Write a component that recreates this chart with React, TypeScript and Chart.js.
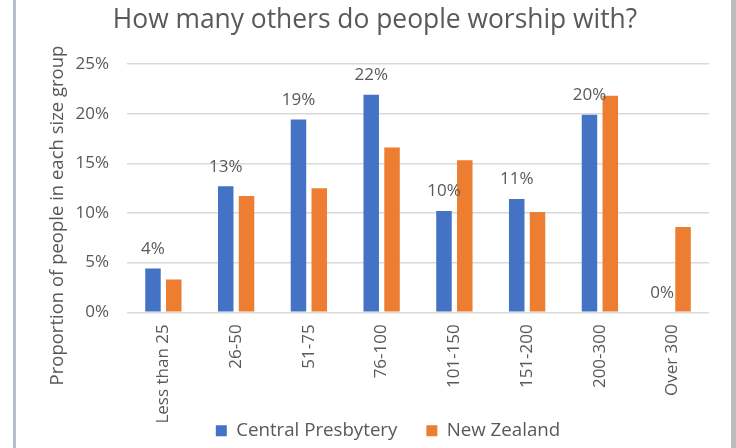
import React, { useEffect, useRef } from "react";
import { Chart, registerables } from "chart.js";

Chart.register(...registerables);

const TITLE = "How many others do people worship with?";
const Y_TITLE = "Proportion of people in each size group";
const categories = ["Less than 25", "26-50", "51-75", "76-100", "101-150", "151-200", "200-300", "Over 300"];
const seriesNames = ["Central Presbytery", "New Zealand"];
const centralPresbytery = [4.4, 12.7, 19.4, 21.9, 10.2, 11.4, 19.9, 0];
const newZealand = [3.3, 11.7, 12.5, 16.6, 15.3, 10.1, 21.8, 8.6];
const yTickValues = [0, 5, 10, 15, 20, 25];

const BLUE = "#4472C4";
const ORANGE = "#ED7D31";
const TEXT = "#595959";
const GRID = "#d9d9d9";
const FONT = "'Open Sans', 'Noto Sans', sans-serif";

const labelPlugin = {
  id: "barLabels",
  afterDatasetsDraw(chart: any) {
    const ctx = chart.ctx;
    const meta = chart.getDatasetMeta(0);
    const data = chart.data.datasets[0].data as number[];
    ctx.save();
    ctx.font = `17px ${FONT}`;
    ctx.fillStyle = TEXT;
    ctx.textAlign = "center";
    ctx.textBaseline = "middle";
    meta.data.forEach((el: any, i: number) => {
      ctx.fillText(Math.round(data[i]) + "%", el.x, el.y - 19.5);
    });
    ctx.restore();
  },
};

const titlePlugin = {
  id: "titles",
  afterDraw(chart: any) {
    const ctx = chart.ctx;
    ctx.save();
    ctx.fillStyle = TEXT;
    ctx.textAlign = "center";
    ctx.textBaseline = "alphabetic";
    ctx.font = `26.4px ${FONT}`;
    ctx.fillText(TITLE, 375, 28);
    ctx.translate(63, 215.5);
    ctx.rotate(-Math.PI / 2);
    ctx.font = `18.5px ${FONT}`;
    ctx.fillText(Y_TITLE, 0, 0);
    ctx.restore();
  },
};

export default function App() {
  const ref = useRef<HTMLCanvasElement | null>(null);

  useEffect(() => {
    if (!ref.current) return;
    const chart = new Chart(ref.current, {
      type: "bar",
      data: {
        labels: categories,
        datasets: [
          {
            label: seriesNames[0],
            data: centralPresbytery,
            backgroundColor: BLUE,
            categoryPercentage: 0.572,
            barPercentage: 0.745,
          },
          {
            label: seriesNames[1],
            data: newZealand,
            backgroundColor: ORANGE,
            categoryPercentage: 0.572,
            barPercentage: 0.745,
          },
        ],
      },
      options: {
        responsive: false,
        animation: false,
        layout: { padding: { left: 67, right: 27, top: 64, bottom: -2 } },
        plugins: {
          title: { display: false },
          tooltip: { enabled: false },
          legend: {
            position: "bottom",
            labels: {
              boxWidth: 11,
              boxHeight: 11,
              padding: 29,
              color: TEXT,
              font: { family: FONT, size: 18.7 },
            },
          },
        },
        scales: {
          x: {
            grid: { display: false, drawTicks: false },
            border: { display: false },
            ticks: {
              color: TEXT,
              font: { family: FONT, size: 17 },
              maxRotation: 90,
              minRotation: 90,
              padding: 12,
              autoSkip: false,
            },
            afterFit(scale: any) {
              scale.height = 80;
              // let the rotated labels run past the axis box instead of clipping them
              scale._computeLabelArea = () => undefined;
            },
          },
          y: {
            min: 0,
            max: 25,
            grid: { color: GRID, lineWidth: 1.5, drawTicks: false },
            border: { display: false },
            afterBuildTicks(scale: any) {
              scale.ticks = yTickValues.map((v) => ({ value: v }));
            },
            ticks: {
              color: TEXT,
              font: { family: FONT, size: 17 },
              padding: 18,
              callback: (v: any) => v + "%",
            },
            afterFit(scale: any) {
              scale.width = 60;
            },
          },
        },
      },
      plugins: [labelPlugin, titlePlugin],
    });
    return () => chart.destroy();
  }, []);

  return (
    <div
      style={{
        position: "fixed",
        left: 0,
        top: 0,
        width: 736,
        height: 448,
        background: "#ffffff",
        overflow: "hidden",
      }}
    >
      <div style={{ position: "absolute", left: 13, top: 0, width: 3, height: 448, background: "#b7bfcc" }} />
      <div style={{ position: "absolute", left: 731, top: 0, width: 5, height: 448, background: "#bdbdbd" }} />
      <canvas ref={ref} width={736} height={448} style={{ position: "absolute", left: 0, top: 0 }} />
    </div>
  );
}
